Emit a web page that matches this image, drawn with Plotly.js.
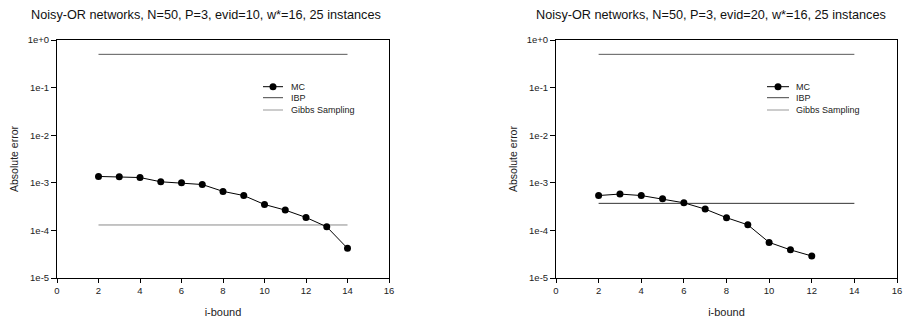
<!DOCTYPE html>
<html>
<head>
<meta charset="utf-8">
<script src="https://cdn.plot.ly/plotly-3.0.1.min.js"></script>
<style>html,body{margin:0;padding:0;background:#fff}#chart{width:903px;height:320px}</style>
</head>
<body>
<div id="chart"></div>
<script>
// ---- data ----
var titles = [
  "Noisy-OR networks, N=50, P=3, evid=10, w*=16, 25 instances",
  "Noisy-OR networks, N=50, P=3, evid=20, w*=16, 25 instances"
];
var mcX1 = [2, 3, 4, 5, 6, 7, 8, 9, 10, 11, 12, 13, 14];
var mcY1 = [1.36e-3, 1.34e-3, 1.29e-3, 1.05e-3, 1.0e-3, 9.2e-4, 6.6e-4, 5.4e-4, 3.5e-4, 2.67e-4, 1.87e-4, 1.19e-4, 4.2e-5];
var mcX2 = [2, 3, 4, 5, 6, 7, 8, 9, 10, 11, 12];
var mcY2 = [5.4e-4, 5.8e-4, 5.4e-4, 4.6e-4, 3.8e-4, 2.8e-4, 1.85e-4, 1.31e-4, 5.6e-5, 3.9e-5, 2.9e-5];
var flatX = [2, 14];
var upperY1 = [0.5, 0.5];
var lowerY1 = [1.3e-4, 1.3e-4];
var upperY2 = [0.5, 0.5];
var lowerY2 = [3.7e-4, 3.7e-4];
var yTickVals = [1e-5, 1e-4, 1e-3, 1e-2, 1e-1, 1];
var yTickText = ["1e-5", "1e-4", "1e-3", "1e-2", "1e-1", "1e+0"];
var xTickVals = [0, 2, 4, 6, 8, 10, 12, 14, 16];
var legendNames = ["MC", "IBP", "Gibbs Sampling"];

// ---- styling ----
var FONT = "Liberation Sans, Arial, sans-serif";
var W = 903, H = 320;
function px(x){ return x / W; }
function py(y){ return 1 - y / H; }

function mk(x, y, xa, ya, color, markers) {
  return {
    x: x, y: y, xaxis: xa, yaxis: ya, type: "scatter",
    mode: markers ? "lines+markers" : "lines",
    line: {color: color, width: 1},
    marker: {color: "#000", size: 7},
    showlegend: false, hoverinfo: "skip"
  };
}

var traces = [
  mk(flatX, upperY1, "x", "y", "#5a5a5a", false),
  mk(flatX, lowerY1, "x", "y", "#8a8a8a", false),
  mk(mcX1, mcY1, "x", "y", "#000", true),
  mk(flatX, upperY2, "x2", "y2", "#5a5a5a", false),
  mk(flatX, lowerY2, "x2", "y2", "#333333", false),
  mk(mcX2, mcY2, "x2", "y2", "#000", true)
];

function xax(d, anchor) {
  return {
    domain: d, anchor: anchor, range: [0, 16], tickmode: "array",
    tickvals: xTickVals,
    ticks: "outside", ticklen: 4, tickwidth: 1, tickcolor: "#000",
    showline: true, linecolor: "#000", linewidth: 1, mirror: true,
    showgrid: false, zeroline: false,
    tickfont: {family: FONT, size: 9.5, color: "#222"},
    title: {text: "i-bound", font: {family: FONT, size: 11, color: "#222"}, standoff: 12}
  };
}
function yax(d, anchor) {
  return {
    domain: d, anchor: anchor, type: "log", range: [-5, 0],
    tickmode: "array", tickvals: yTickVals, ticktext: yTickText,
    ticks: "outside", ticklen: 5, tickwidth: 1, tickcolor: "#000",
    showline: true, linecolor: "#000", linewidth: 1, mirror: true,
    showgrid: false, zeroline: false,
    tickfont: {family: FONT, size: 9.5, color: "#222"},
    title: {text: "Absolute error", font: {family: FONT, size: 10.5, color: "#222"}, standoff: 7}
  };
}

var yd = [1 - 278 / H, 1 - 40 / H];
var layout = {
  width: W, height: H,
  margin: {l: 0, r: 0, t: 0, b: 0},
  paper_bgcolor: "#fff", plot_bgcolor: "#fff",
  showlegend: false,
  xaxis: xax([px(57), px(389)], "y"),
  yaxis: yax(yd, "x"),
  xaxis2: xax([px(556), px(897)], "y2"),
  yaxis2: yax(yd, "x2"),
  annotations: [],
  shapes: []
};

// titles
[[206, titles[0]], [711, titles[1]]].forEach(function(t){
  layout.annotations.push({
    xref: "paper", yref: "paper", x: px(t[0]), y: py(15), text: t[1],
    showarrow: false, xanchor: "center", yanchor: "middle",
    font: {family: FONT, size: 12.7, color: "#111"}
  });
});

// legends (manual, to match compact spacing)
var legendColors = ["#000", "#444", "#999"];
[[263, 283, 289], [767, 789, 794]].forEach(function(L){
  var rows = [86.7, 97.7, 110];
  rows.forEach(function(ry, i){
    layout.shapes.push({type: "line", xref: "paper", yref: "paper",
      x0: px(L[0]), x1: px(L[1]), y0: py(ry), y1: py(ry),
      line: {color: legendColors[i], width: 1}});
    if (i === 0) {
      var cx = (L[0] + L[1]) / 2;
      layout.shapes.push({type: "circle", xref: "paper", yref: "paper",
        x0: px(cx - 3.5), x1: px(cx + 3.5), y0: py(ry - 3.5), y1: py(ry + 3.5),
        fillcolor: "#000", line: {color: "#000", width: 0}});
    }
    layout.annotations.push({xref: "paper", yref: "paper", x: px(L[2]), y: py(ry),
      text: legendNames[i], showarrow: false, xanchor: "left", yanchor: "middle",
      font: {family: FONT, size: 9, color: "#222"}});
  });
});

Plotly.newPlot("chart", traces, layout, {staticPlot: true, displayModeBar: false});
</script>
</body>
</html>
